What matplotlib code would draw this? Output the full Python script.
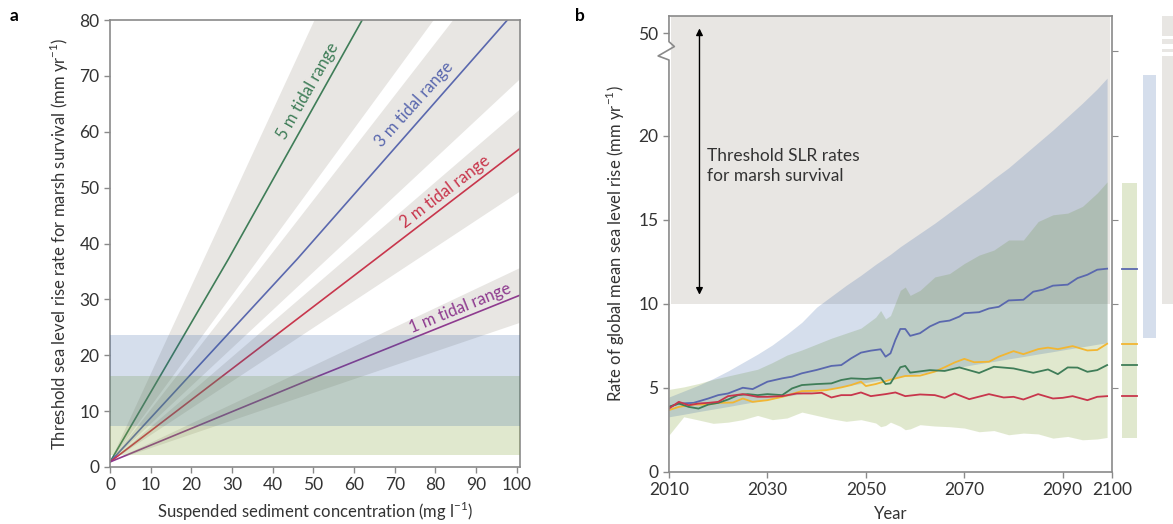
import numpy as np
import matplotlib
matplotlib.use('Agg')
import matplotlib.pyplot as plt

plt.rcParams['font.family'] = ['Lato', 'DejaVu Sans']
plt.rcParams['mathtext.fontset'] = 'custom'
plt.rcParams['mathtext.rm'] = 'Lato'

# ---- panel a data ----
# centre lines: x (mg/l) and threshold SLR (mm/yr)
a_5m_x = [0, 29.1, 62.0]
a_5m_y = [0.9, 37.2, 80]
a_3m_x = [0, 46.0, 97.7]
a_3m_y = [0.9, 37.2, 80]
a_2m_x = [0, 65.3, 100.8]
a_2m_y = [0.9, 37.2, 57.0]
a_1m_x = [0, 51.0, 100.8]
a_1m_y = [0.9, 16.2, 30.75]
# uncertainty wedges: polygon corners
a_5m_band = [(0, 0.9), (50.3, 80), (79.6, 80)]
a_3m_band = [(0, 0.9), (84.4, 80), (100.8, 80), (100.8, 69.4)]
a_2m_band = [(0, 0.9), (100.8, 64.0), (100.8, 49.3)]
a_1m_band = [(0, 0.9), (100.8, 35.6), (100.8, 25.8)]
# projected SLR ranges (horizontal bands)
a_blue_range = (7.4, 23.7)
a_green_range = (2.1, 16.3)

# ---- panel b data ----
blue_years = [2010, 2012, 2015, 2018, 2020, 2022, 2025, 2027, 2030, 2033, 2035, 2037, 2040, 2043, 2045,
              2047, 2049, 2051, 2053, 2054, 2055, 2056, 2057, 2058, 2059, 2061, 2063, 2065, 2067, 2069,
              2070, 2073, 2075, 2077, 2079, 2082, 2084, 2086, 2088, 2091, 2093, 2095, 2097, 2099]
blue_vals = [3.86, 4.06, 4.10, 4.36, 4.56, 4.66, 5.00, 4.92, 5.36, 5.56, 5.66, 5.86, 6.06, 6.30, 6.35,
             6.75, 7.09, 7.21, 7.29, 6.85, 7.05, 7.85, 8.50, 8.50, 8.09, 8.25, 8.65, 8.92, 9.00, 9.24,
             9.44, 9.50, 9.72, 9.82, 10.20, 10.24, 10.72, 10.84, 11.08, 11.14, 11.53, 11.73, 12.03, 12.09]
yellow_years = [2010, 2012, 2015, 2018, 2020, 2023, 2025, 2027, 2030, 2033, 2037, 2040, 2042, 2045, 2047,
                2049, 2050, 2052, 2055, 2058, 2061, 2064, 2066, 2068, 2070, 2072, 2075, 2077, 2080, 2082,
                2085, 2087, 2089, 2092, 2095, 2097, 2099]
yellow_vals = [3.67, 3.86, 4.00, 4.00, 4.10, 4.12, 4.36, 4.16, 4.26, 4.46, 4.80, 4.82, 4.86, 5.02, 5.16,
               5.36, 5.10, 5.22, 5.48, 5.70, 5.72, 5.96, 6.22, 6.50, 6.72, 6.52, 6.55, 6.85, 7.18, 7.00,
               7.30, 7.39, 7.30, 7.48, 7.22, 7.25, 7.62]
green_years = [2010, 2012, 2014, 2016, 2018, 2020, 2022, 2024, 2026, 2028, 2030, 2033, 2035, 2037, 2040,
               2043, 2045, 2047, 2050, 2053, 2054, 2055, 2057, 2058, 2059, 2063, 2066, 2069, 2073, 2076,
               2080, 2084, 2087, 2089, 2091, 2093, 2095, 2097, 2099]
green_vals = [3.86, 4.06, 3.86, 3.76, 4.00, 4.10, 4.30, 4.56, 4.62, 4.56, 4.62, 4.56, 4.96, 5.16, 5.22,
              5.26, 5.46, 5.56, 5.52, 5.60, 5.22, 5.26, 6.22, 6.30, 5.90, 6.05, 6.00, 6.21, 5.88, 6.25,
              6.15, 5.89, 6.09, 5.81, 6.21, 6.20, 5.95, 6.05, 6.35]
red_years = [2010, 2012, 2014, 2016, 2018, 2020, 2022, 2025, 2028, 2030, 2033, 2036, 2039, 2041, 2043,
             2045, 2047, 2049, 2051, 2054, 2056, 2058, 2061, 2064, 2066, 2068, 2071, 2075, 2078, 2080,
             2082, 2085, 2088, 2090, 2092, 2095, 2097, 2099]
red_vals = [3.76, 4.16, 3.96, 4.06, 4.10, 4.16, 4.50, 4.62, 4.46, 4.46, 4.50, 4.66, 4.66, 4.70, 4.42,
            4.56, 4.56, 4.72, 4.50, 4.62, 4.72, 4.50, 4.60, 4.56, 4.40, 4.66, 4.32, 4.62, 4.42, 4.46,
            4.30, 4.62, 4.36, 4.40, 4.50, 4.26, 4.46, 4.50]

band_years = [2010, 2013, 2016, 2019, 2022, 2025, 2028, 2031, 2034, 2037, 2040, 2043, 2046, 2049, 2052,
              2053, 2054, 2055, 2057, 2058, 2059, 2061, 2064, 2067, 2070, 2073, 2076, 2079, 2082, 2085,
              2088, 2091, 2094, 2097, 2099]
blue_hi = [4.45, 4.80, 5.15, 5.55, 6.00, 6.50, 7.00, 7.55, 8.20, 8.90, 9.80, 10.45, 11.10, 11.70, 12.35,
           12.55, 12.75, 12.95, 13.40, 13.60, 13.80, 14.20, 14.80, 15.45, 16.10, 16.75, 17.45, 18.10, 18.85,
           19.60, 20.35, 21.15, 21.95, 22.80, 23.44]
blue_lo = [3.27, 3.42, 3.58, 3.73, 3.88, 4.04, 4.19, 4.34, 4.50, 4.65, 4.80, 4.95, 5.11, 5.26, 5.41,
           5.46, 5.51, 5.56, 5.65, 5.70, 5.75, 5.85, 5.99, 6.14, 6.28, 6.43, 6.57, 6.72, 6.86, 7.01,
           7.15, 7.30, 7.44, 7.59, 7.68]
green_hi = [4.90, 5.05, 5.25, 5.50, 5.70, 5.90, 6.10, 6.50, 6.95, 7.25, 7.60, 7.95, 8.25, 8.55, 9.20,
            9.60, 9.10, 9.30, 10.80, 11.00, 10.50, 10.80, 11.60, 11.80, 12.40, 12.90, 13.20, 13.80, 13.80,
            14.90, 15.30, 15.40, 15.80, 16.60, 17.26]
green_lo = [2.18, 3.27, 3.08, 2.88, 2.95, 3.10, 3.35, 3.10, 3.20, 3.55, 3.35, 3.15, 3.00, 3.10, 2.90,
            2.68, 2.75, 2.95, 2.70, 2.50, 2.55, 2.80, 2.72, 2.68, 2.60, 2.38, 2.45, 2.20, 2.30, 2.25,
            2.00, 2.10, 1.90, 1.95, 2.04]
threshold_min = 10.0
# side bars (ranges at 2100)
bar_green = (2.0, 17.2)
bar_blue = (7.95, 23.6)
bar_gray = (10.0, 27.14)

# colours
c_green = '#3f7d58'
c_blue = '#5a68ae'
c_red = '#c8364c'
c_purple = '#8e3b8f'
c_yellow = '#f2b632'
c_gray = '#e8e6e3'
band_blue = '#2d5ca3'
band_green = '#87a73f'
spine_c = '#8a8a8a'
text_c = '#333333'

fig = plt.figure(figsize=(11.73, 5.24), dpi=100)
axa = fig.add_axes([0.0938, 0.1088, 0.3495, 0.853])
axb = fig.add_axes([0.5703, 0.0998, 0.3777, 0.8697])

# ================= panel a =================
for band in [a_5m_band, a_3m_band, a_2m_band, a_1m_band]:
    axa.add_patch(plt.Polygon(band, closed=True, facecolor=c_gray, edgecolor='none', zorder=1))

lines_a = [(a_5m_x, a_5m_y, c_green), (a_3m_x, a_3m_y, c_blue),
           (a_2m_x, a_2m_y, c_red), (a_1m_x, a_1m_y, c_purple)]
for xs, ys, c in lines_a:
    axa.plot(xs, ys, color=c, lw=1.2, zorder=2)

axa.axhspan(*a_green_range, color=band_green, alpha=0.25, lw=0, zorder=3)
axa.axhspan(*a_blue_range, color=band_blue, alpha=0.2, lw=0, zorder=3)

labels_a = [('5 m tidal range', 48.7, 67.3, a_5m_x, a_5m_y, c_green),
            ('3 m tidal range', 74.7, 64.9, a_3m_x, a_3m_y, c_blue),
            ('2 m tidal range', 82.3, 49.3, a_2m_x, a_2m_y, c_red),
            ('1 m tidal range', 86.1, 28.5, a_1m_x, a_1m_y, c_purple)]
for txt, tx, ty, xs, ys, c in labels_a:
    ang = np.degrees(np.arctan2(ys[-1] - ys[0], xs[-1] - xs[0]))
    axa.text(tx, ty, txt, color=c, fontsize=12, rotation=ang, transform_rotates_text=True,
             rotation_mode='anchor', ha='center', va='center', zorder=4)

axa.set_xlim(0, 100.8)
axa.set_ylim(0, 80)
axa.set_xticks(np.arange(0, 101, 10))
axa.set_yticks(np.arange(0, 81, 10))
axa.set_xlabel('Suspended sediment concentration (mg l$^{-1}$)', fontsize=12, color=text_c, labelpad=5)
axa.set_ylabel('Threshold sea level rise rate for marsh survival (mm yr$^{-1}$)', fontsize=12,
               color=text_c, labelpad=6)

# ================= panel b =================
axb.fill_between([2010.5, 2099.6], threshold_min, 27.14, color=c_gray, lw=0, zorder=1)
axb.fill_between(band_years, green_lo, green_hi, color=band_green, alpha=0.25, lw=0, zorder=2)
axb.fill_between(band_years, blue_lo, blue_hi, color=band_blue, alpha=0.2, lw=0, zorder=2)

series_b = [(blue_years, blue_vals, c_blue), (yellow_years, yellow_vals, c_yellow),
            (green_years, green_vals, c_green), (red_years, red_vals, c_red)]
for ys, vs, c in series_b:
    axb.plot(ys, vs, color=c, lw=1.3, zorder=3)

# side bars outside the axes
axb.fill_between([2102.1, 2105.1], *bar_green, color=band_green, alpha=0.25, lw=0, clip_on=False)
axb.fill_between([2106.2, 2108.9], *bar_blue, color=band_blue, alpha=0.2, lw=0, clip_on=False)
gray_pieces = [(10.0, 24.75), (25.0, 25.2), (25.5, 25.75), (25.95, bar_gray[1])]
for lo, hi in gray_pieces:
    axb.fill_between([2110.2, 2113.5], lo, hi, color=c_gray, lw=0, clip_on=False)
for ys, vs, c in series_b:
    axb.plot([2102.1, 2105.1], [vs[-1], vs[-1]], color=c, lw=1.3, clip_on=False)

axb.annotate('', xy=(2016.2, 26.4), xytext=(2016.2, 10.54),
             arrowprops=dict(arrowstyle='<|-|>', color='black', lw=1, mutation_scale=10,
                             shrinkA=0, shrinkB=0), zorder=4)
axb.text(2017.7, 18.2, 'Threshold SLR rates\nfor marsh survival', fontsize=12.5, color=text_c,
         ha='left', va='center', linespacing=1.25, zorder=4)

axb.set_xlim(2010, 2100)
axb.set_ylim(0, 27.14)
axb.set_xticks([2010, 2030, 2050, 2070, 2090, 2100])
axb.set_yticks([0, 5, 10, 15, 20, 26.1])
axb.set_yticklabels(['0', '5', '10', '15', '20', '50'])
axb.set_xlabel('Year', fontsize=12, color=text_c, labelpad=6)
axb.set_ylabel('Rate of global mean sea level rise (mm yr$^{-1}$)', fontsize=12, color=text_c, labelpad=8)

# right-hand ticks without labels
axr = axb.twinx()
axr.set_ylim(axb.get_ylim())
axr.set_yticks([5, 10, 15, 20, 25.06])
axr.set_yticklabels([])
axr.tick_params(axis='y', direction='out', length=4, color=spine_c)
for s in axr.spines.values():
    s.set_visible(False)

# broken left spine
axb.spines['left'].set_visible(False)
axb.plot([2010, 2010, 2007.8, 2011.1, 2010, 2010], [0, 24.52, 24.76, 25.32, 25.61, 27.14],
         color=spine_c, lw=1.2, clip_on=False, zorder=5)

for ax in [axa, axb]:
    for s in ax.spines.values():
        s.set_color(spine_c)
        s.set_linewidth(1.2)
    ax.tick_params(direction='out', length=4, color=spine_c, labelsize=12.5, labelcolor=text_c, width=1)

fig.text(0.008, 0.97, 'a', fontsize=12.5, fontweight='bold', va='center')
fig.text(0.49, 0.97, 'b', fontsize=12.5, fontweight='bold', va='center')

fig.savefig('out.png', dpi=100)
